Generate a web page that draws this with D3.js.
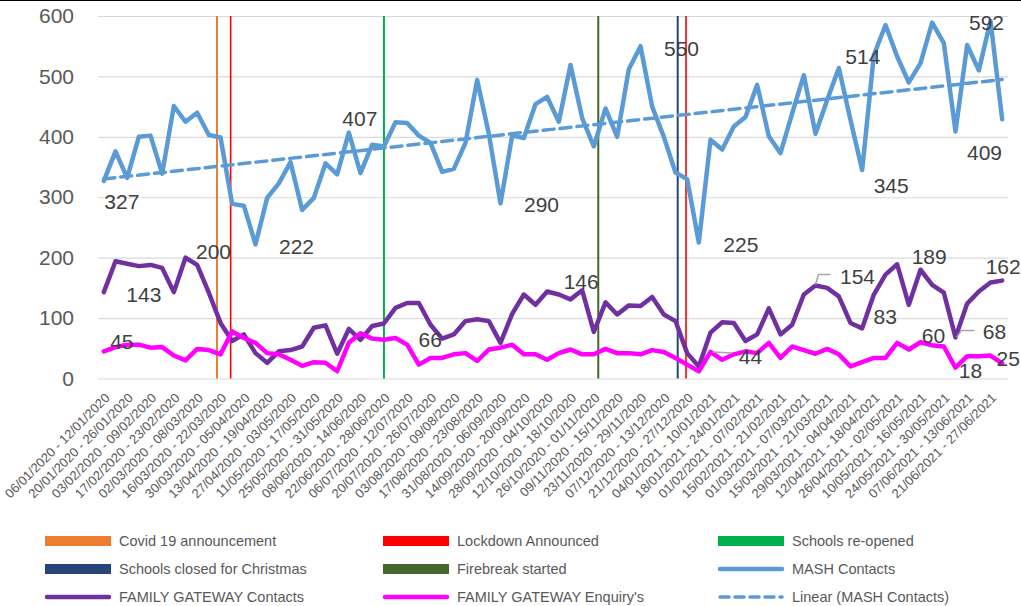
<!DOCTYPE html>
<html>
<head>
<meta charset="utf-8">
<script src="https://cdn.jsdelivr.net/npm/d3@7"></script>
<style>
  body { margin: 0; background: #fff; }
  svg { font-family: "Liberation Sans", Arial, sans-serif; }
</style>
</head>
<body>
<svg id="chart"></svg>
<script>
// week categories (every other one is labelled on the axis)
var weeks = [
  "06/01/2020 - 12/01/2020","13/01/2020 - 19/01/2020","20/01/2020 - 26/01/2020","27/01/2020 - 02/02/2020",
  "03/02/2020 - 09/02/2020","10/02/2020 - 16/02/2020","17/02/2020 - 23/02/2020","24/02/2020 - 01/03/2020",
  "02/03/2020 - 08/03/2020","09/03/2020 - 15/03/2020","16/03/2020 - 22/03/2020","23/03/2020 - 29/03/2020",
  "30/03/2020 - 05/04/2020","06/04/2020 - 12/04/2020","13/04/2020 - 19/04/2020","20/04/2020 - 26/04/2020",
  "27/04/2020 - 03/05/2020","04/05/2020 - 10/05/2020","11/05/2020 - 17/05/2020","18/05/2020 - 24/05/2020",
  "25/05/2020 - 31/05/2020","01/06/2020 - 07/06/2020","08/06/2020 - 14/06/2020","15/06/2020 - 21/06/2020",
  "22/06/2020 - 28/06/2020","29/06/2020 - 05/07/2020","06/07/2020 - 12/07/2020","13/07/2020 - 19/07/2020",
  "20/07/2020 - 26/07/2020","27/07/2020 - 02/08/2020","03/08/2020 - 09/08/2020","10/08/2020 - 16/08/2020",
  "17/08/2020 - 23/08/2020","24/08/2020 - 30/08/2020","31/08/2020 - 06/09/2020","07/09/2020 - 13/09/2020",
  "14/09/2020 - 20/09/2020","21/09/2020 - 27/09/2020","28/09/2020 - 04/10/2020","05/10/2020 - 11/10/2020",
  "12/10/2020 - 18/10/2020","19/10/2020 - 25/10/2020","26/10/2020 - 01/11/2020","02/11/2020 - 08/11/2020",
  "09/11/2020 - 15/11/2020","16/11/2020 - 22/11/2020","23/11/2020 - 29/11/2020","30/11/2020 - 06/12/2020",
  "07/12/2020 - 13/12/2020","14/12/2020 - 20/12/2020","21/12/2020 - 27/12/2020","28/12/2020 - 03/01/2021",
  "04/01/2021 - 10/01/2021","11/01/2021 - 17/01/2021","18/01/2021 - 24/01/2021","25/01/2021 - 31/01/2021",
  "01/02/2021 - 07/02/2021","08/02/2021 - 14/02/2021","15/02/2021 - 21/02/2021","22/02/2021 - 28/02/2021",
  "01/03/2021 - 07/03/2021","08/03/2021 - 14/03/2021","15/03/2021 - 21/03/2021","22/03/2021 - 28/03/2021",
  "29/03/2021 - 04/04/2021","05/04/2021 - 11/04/2021","12/04/2021 - 18/04/2021","19/04/2021 - 25/04/2021",
  "26/04/2021 - 02/05/2021","03/05/2021 - 09/05/2021","10/05/2021 - 16/05/2021","17/05/2021 - 23/05/2021",
  "24/05/2021 - 30/05/2021","31/05/2021 - 06/06/2021","07/06/2021 - 13/06/2021","14/06/2021 - 20/06/2021",
  "21/06/2021 - 27/06/2021","28/06/2021 - 04/07/2021"
];

var mash = [
  327, 376, 332, 400, 402, 339, 451, 425, 440, 403,
  399, 289, 286, 222, 299, 323, 358, 279, 299, 356,
  338, 407, 340, 387, 384, 424, 423, 402, 390, 342,
  347, 390, 494, 405, 290, 402, 398, 454, 466, 425,
  519, 431, 384, 447, 400, 512, 550, 450, 400, 341,
  330, 225, 395, 379, 417, 433, 486, 401, 373, 439,
  502, 405, 461, 514, 428, 345, 535, 585, 533, 490,
  522, 589, 555, 409, 552, 510, 592, 429
];

var fgContacts = [
  143, 194, 190, 186, 188, 183, 143, 200, 188, 142,
  92, 62, 73, 42, 26, 45, 47, 53, 84, 88,
  41, 82, 64, 87, 91, 117, 125, 125, 89, 66,
  73, 95, 98, 95, 59, 107, 139, 122, 144, 139,
  131, 146, 77, 126, 106, 121, 120, 135, 106, 95,
  42, 20, 76, 93, 92, 62, 73, 116, 73, 89,
  139, 154, 150, 136, 92, 83, 139, 172, 189, 122,
  180, 155, 142, 68, 124, 144, 159, 162
];

var fgEnquiries = [
  45, 52, 56, 56, 51, 52, 38, 30, 49, 47,
  40, 78, 67, 59, 42, 40, 31, 21, 27, 26,
  12, 59, 75, 66, 64, 67, 56, 23, 34, 34,
  40, 42, 29, 48, 51, 56, 40, 40, 31, 42,
  48, 40, 40, 49, 42, 42, 40, 47, 44, 34,
  23, 12, 44, 31, 40, 45, 42, 59, 34, 53,
  47, 41, 49, 40, 20, 27, 34, 34, 59, 48,
  60, 55, 53, 18, 37, 37, 38, 25
];

// events, as a (fractional) week position
var eventNames = ["Covid 19 announcement", "Lockdown Announced", "Schools re-opened",
                  "Firebreak started", "Schools closed for Christmas", "Lockdown Announced"];
var eventWeeks = [9.7, 10.87, 24.01, 42.38, 49.19, 49.9];

var yTicks = [0, 100, 200, 300, 400, 500, 600];

var colors = {
  "Covid 19 announcement": "#ED7D31",
  "Lockdown Announced": "#FF0000",
  "Schools re-opened": "#00B050",
  "Schools closed for Christmas": "#264478",
  "Firebreak started": "#43682B",
  "MASH Contacts": "#5B9BD5",
  "FAMILY GATEWAY Contacts": "#7030A0",
  "FAMILY GATEWAY Enquiry's": "#FF00FF",
  "Linear (MASH Contacts)": "#5B9BD5"
};
var eventWidth = { "Covid 19 announcement": 2, "Lockdown Announced": 1.6 };

var series = {
  mash: mash,
  fgc: fgContacts,
  fge: fgEnquiries
};

// data labels: which point, and where the text sits relative to it
var labels = [
  { s: "mash", i: 0, dx: 18, dy: 21 },
  { s: "mash", i: 13, dx: 41, dy: 2 },
  { s: "mash", i: 21, dx: 11, dy: -14 },
  { s: "mash", i: 34, dx: 41, dy: 1 },
  { s: "mash", i: 46, dx: 41, dy: 2 },
  { s: "mash", i: 51, dx: 42, dy: 2 },
  { s: "mash", i: 63, dx: 24, dy: -11 },
  { s: "mash", i: 65, dx: 29, dy: 16 },
  { s: "mash", i: 73, dx: 29, dy: 21 },
  { s: "mash", i: 76, dx: -4, dy: 2 },
  { s: "fgc", i: 6, dx: -30, dy: 3 },
  { s: "fgc", i: 7, dx: 28, dy: -6 },
  { s: "fgc", i: 29, dx: -12, dy: 1 },
  { s: "fgc", i: 41, dx: -1, dy: -9 },
  { s: "fgc", i: 61, dx: 42, dy: -9, leader: [[0, -1], [3, -11], [15, -11]] },
  { s: "fgc", i: 65, dx: 23, dy: -12 },
  { s: "fgc", i: 68, dx: 32, dy: -8 },
  { s: "fgc", i: 73, dx: 39, dy: -6, leader: [[1, 0], [6, -7], [19, -7]] },
  { s: "fgc", i: 77, dx: 1, dy: -14 },
  { s: "fge", i: 0, dx: 18, dy: -10 },
  { s: "fge", i: 52, dx: 40, dy: 5, leader: [[2, 0], [22, 1]] },
  { s: "fge", i: 70, dx: 13, dy: -7 },
  { s: "fge", i: 73, dx: 15, dy: 3 },
  { s: "fge", i: 77, dx: 6, dy: -5 }
];

var W = 1021, H = 606;
var margin = { top: 16, left: 98 };
var width = 910, height = 362.5;

var svg = d3.select("#chart").attr("width", W).attr("height", H);

svg.append("line")
  .attr("x1", 0).attr("x2", W).attr("y1", 0.5).attr("y2", 0.5)
  .attr("stroke", "#000").attr("stroke-width", 1);

var g = svg.append("g")
  .attr("transform", "translate(" + margin.left + "," + margin.top + ")");

var x = d3.scaleLinear().domain([-0.5, weeks.length - 0.5]).range([0, width]);
var y = d3.scaleLinear().domain([0, 600]).range([height, 0]);

// y grid + labels
var yAxis = g.append("g")
  .call(d3.axisLeft(y).tickValues(yTicks).tickSize(-width).tickPadding(24));
yAxis.select(".domain").remove();
yAxis.selectAll(".tick line").attr("stroke", "#D9D9D9").attr("stroke-width", 1.2);
yAxis.selectAll(".tick text")
  .attr("fill", "#595959").style("font-size", "21px");

// x axis labels
var xAxis = g.append("g")
  .attr("transform", "translate(0," + height + ")")
  .call(d3.axisBottom(x)
    .tickValues(d3.range(0, weeks.length, 2))
    .tickFormat(function(i) { return weeks[i]; })
    .tickSize(0));
xAxis.select(".domain").remove();
xAxis.selectAll(".tick text")
  .attr("x", 0).attr("y", 0).attr("dy", "0.35em")
  .attr("text-anchor", "end")
  .attr("transform", "translate(3,17) rotate(-45)")
  .attr("fill", "#595959")
  .style("font-size", "13px");

// event lines
g.selectAll(".event")
  .data(eventWeeks)
  .enter()
  .append("line")
  .attr("class", "event")
  .attr("x1", function(d) { return x(d); })
  .attr("x2", function(d) { return x(d); })
  .attr("y1", y(600))
  .attr("y2", y(0))
  .attr("stroke", function(d, i) { return colors[eventNames[i]]; })
  .attr("stroke-width", function(d, i) { return eventWidth[eventNames[i]] || 2; });

var line = d3.line()
  .x(function(d, i) { return x(i); })
  .y(function(d) { return y(d); });

function drawSeries(data, color) {
  g.append("path")
    .datum(data)
    .attr("fill", "none")
    .attr("stroke", color)
    .attr("stroke-width", 4.5)
    .attr("stroke-linejoin", "round")
    .attr("stroke-linecap", "round")
    .attr("d", line);
}

drawSeries(mash, colors["MASH Contacts"]);

// linear trend of MASH contacts (least squares)
var n = mash.length;
var mx = d3.mean(mash, function(d, i) { return i; });
var my = d3.mean(mash);
var sxy = d3.sum(mash, function(d, i) { return (i - mx) * (d - my); });
var sxx = d3.sum(mash, function(d, i) { return (i - mx) * (i - mx); });
var slope = sxy / sxx, icpt = my - slope * mx;
g.append("line")
  .attr("x1", x(0)).attr("y1", y(icpt))
  .attr("x2", x(n - 1)).attr("y2", y(icpt + slope * (n - 1)))
  .attr("stroke", colors["Linear (MASH Contacts)"])
  .attr("stroke-width", 3.5)
  .attr("stroke-dasharray", "11,6")
  .attr("stroke-linecap", "round");

drawSeries(fgContacts, colors["FAMILY GATEWAY Contacts"]);
drawSeries(fgEnquiries, colors["FAMILY GATEWAY Enquiry's"]);

// data labels
labels.forEach(function(l) {
  var v = series[l.s][l.i];
  var px = x(l.i), py = y(v);
  if (l.leader) {
    g.append("polyline")
      .attr("points", l.leader.map(function(p) { return (px + p[0]) + "," + (py + p[1]); }).join(" "))
      .attr("fill", "none")
      .attr("stroke", "#A6A6A6")
      .attr("stroke-width", 1.5);
  }
  g.append("text")
    .attr("x", px + l.dx)
    .attr("y", py + l.dy)
    .attr("dy", "0.35em")
    .attr("text-anchor", "middle")
    .attr("fill", "#404040")
    .style("font-size", "21px")
    .text(v);
});

// legend
var legendItems = [
  { name: "Covid 19 announcement", type: "rect" },
  { name: "Lockdown Announced", type: "rect" },
  { name: "Schools re-opened", type: "rect" },
  { name: "Schools closed for Christmas", type: "rect" },
  { name: "Firebreak started", type: "rect" },
  { name: "MASH Contacts", type: "line" },
  { name: "FAMILY GATEWAY Contacts", type: "line" },
  { name: "FAMILY GATEWAY Enquiry's", type: "line" },
  { name: "Linear (MASH Contacts)", type: "dash" }
];
var legCols = [45, 383, 718], legRows = [541, 569, 597];

var leg = svg.selectAll(".leg")
  .data(legendItems)
  .enter()
  .append("g")
  .attr("class", "leg")
  .attr("transform", function(d, i) {
    return "translate(" + legCols[i % 3] + "," + legRows[Math.floor(i / 3)] + ")";
  });

leg.each(function(d) {
  var el = d3.select(this);
  if (d.type === "rect") {
    el.append("rect")
      .attr("x", 0).attr("y", -5).attr("width", 66).attr("height", 10)
      .attr("fill", colors[d.name]);
  } else {
    el.append("line")
      .attr("x1", 2).attr("x2", 64).attr("y1", 0).attr("y2", 0)
      .attr("stroke", colors[d.name])
      .attr("stroke-width", d.type === "dash" ? 3.5 : 4.5)
      .attr("stroke-linecap", "round")
      .attr("stroke-dasharray", d.type === "dash" ? "9,6" : null);
  }
  el.append("text")
    .attr("x", 74).attr("y", 0).attr("dy", "0.35em")
    .attr("fill", "#595959")
    .style("font-size", "14.5px")
    .text(d.name);
});
</script>
</body>
</html>
